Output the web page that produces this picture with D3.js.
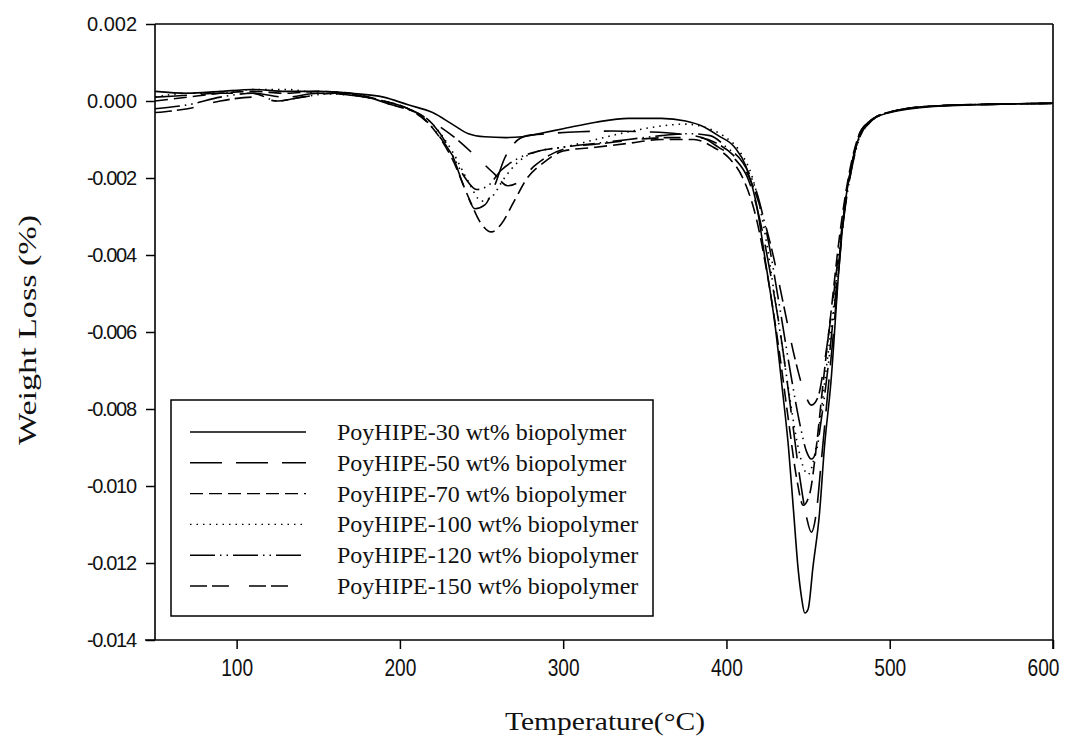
<!DOCTYPE html>
<html>
<head>
<meta charset="utf-8">
<script src="https://cdn.jsdelivr.net/npm/d3@7"></script>
<style>
  html, body { margin: 0; padding: 0; background: #fff; }
  svg { display: block; }
</style>
</head>
<body>
<svg id="chart" width="1075" height="750"></svg>
<script>
// ---------- data ----------
const xTicks = [100, 200, 300, 400, 500, 600];
const yTicks = [0.002, 0.000, -0.002, -0.004, -0.006, -0.008, -0.010, -0.012, -0.014];
const seriesNames = [
  "PoyHIPE-30 wt% biopolymer",
  "PoyHIPE-50 wt% biopolymer",
  "PoyHIPE-70 wt% biopolymer",
  "PoyHIPE-100 wt% biopolymer",
  "PoyHIPE-120 wt% biopolymer",
  "PoyHIPE-150 wt% biopolymer"
];
const s30 = [[50,0.00025],[70,0.0002],[90,0.00025],[110,0.0003],[130,0.00025],[150,0.00025],[170,0.0002],[190,0.0001],[205,-0.0001],[220,-0.0003],[232,-0.0006],[242,-0.00085],[252,-0.00093],[265,-0.00095],[275,-0.00093],[285,-0.00085],[300,-0.00072],[320,-0.00055],[340,-0.00045],[360,-0.00045],[375,-0.00052],[385,-0.00065],[395,-0.0009],[405,-0.0012],[412,-0.0017],[418,-0.0026],[424,-0.0042],[430,-0.0059],[434,-0.0074],[438,-0.009],[441,-0.0106],[444,-0.0122],[446,-0.0129],[448,-0.0133],[450,-0.0132],[453,-0.0121],[457,-0.0107],[460,-0.009],[464,-0.0073],[469,-0.0043],[472,-0.0029],[476,-0.0018],[481,-0.00096],[487,-0.00057],[499,-0.00031],[527,-0.00014],[568,-0.00008],[600,-0.00006]];
const s50 = [[50,0.0001],[70,0.00015],[90,0.0002],[110,0.0002],[130,0.0001],[150,0.0002],[170,0.00015],[190,0.0],[205,-0.0002],[220,-0.0006],[232,-0.0014],[240,-0.0023],[246,-0.0028],[252,-0.0027],[258,-0.0022],[264,-0.0015],[270,-0.0011],[278,-0.0009],[290,-0.00085],[310,-0.0008],[330,-0.00078],[350,-0.0008],[370,-0.00085],[385,-0.00095],[395,-0.0012],[405,-0.0015],[413,-0.002],[420,-0.003],[427,-0.0045],[434,-0.0063],[440,-0.0082],[445,-0.0098],[449,-0.0108],[452,-0.0112],[455,-0.0107],[458,-0.0094],[462,-0.0076],[466,-0.0058],[470,-0.0038],[473,-0.0026],[477,-0.0016],[481,-0.0009],[487,-0.00055],[499,-0.0003],[527,-0.00013],[568,-0.00008],[600,-0.00006]];
const s70 = [[50,0.0],[70,0.0001],[90,0.0002],[110,0.00025],[130,0.0002],[150,0.00025],[170,0.0002],[190,0.0],[205,-0.0002],[220,-0.0007],[232,-0.0015],[242,-0.0025],[250,-0.0032],[256,-0.0034],[262,-0.0032],[270,-0.0026],[278,-0.002],[288,-0.0016],[300,-0.0013],[320,-0.0012],[340,-0.0011],[360,-0.001],[380,-0.001],[392,-0.0012],[402,-0.0015],[410,-0.002],[418,-0.003],[425,-0.0045],[432,-0.0064],[438,-0.0083],[443,-0.0098],[447,-0.0105],[451,-0.0102],[455,-0.009],[459,-0.0074],[464,-0.0055],[469,-0.0036],[473,-0.0024],[477,-0.0015],[481,-0.0009],[487,-0.00055],[499,-0.0003],[527,-0.00013],[568,-0.00008],[600,-0.00006]];
const s100 = [[50,0.0001],[70,0.0002],[90,0.0002],[110,0.0003],[130,0.0003],[150,0.0002],[170,0.00015],[190,0.0],[205,-0.0002],[220,-0.0006],[232,-0.0013],[242,-0.0021],[250,-0.0026],[256,-0.0025],[264,-0.002],[272,-0.0016],[285,-0.0013],[300,-0.0012],[320,-0.001],[340,-0.0008],[360,-0.00065],[375,-0.0006],[388,-0.0007],[398,-0.0009],[408,-0.0013],[416,-0.002],[423,-0.0033],[430,-0.0052],[437,-0.0072],[443,-0.0088],[447,-0.0095],[450,-0.0097],[453,-0.0094],[457,-0.0084],[461,-0.007],[466,-0.0052],[470,-0.0035],[474,-0.0023],[478,-0.0014],[482,-0.0009],[488,-0.00055],[499,-0.0003],[527,-0.00013],[568,-0.00008],[600,-0.00006]];
const s120 = [[50,-0.0002],[70,-0.0001],[90,0.0001],[110,0.0002],[125,0.0],[140,0.0001],[160,0.0002],[180,0.0001],[195,-0.0001],[210,-0.0003],[222,-0.0008],[232,-0.0014],[240,-0.002],[247,-0.0023],[254,-0.0022],[262,-0.0018],[272,-0.0015],[285,-0.0013],[300,-0.0012],[320,-0.0011],[340,-0.001],[360,-0.0009],[378,-0.00085],[390,-0.0009],[400,-0.0012],[410,-0.0016],[418,-0.0023],[425,-0.0035],[432,-0.0052],[439,-0.007],[445,-0.0084],[449,-0.0091],[452,-0.0093],[455,-0.0091],[458,-0.0083],[462,-0.007],[466,-0.0054],[470,-0.0037],[474,-0.0024],[478,-0.0015],[482,-0.0009],[488,-0.00055],[499,-0.0003],[527,-0.00013],[568,-0.00008],[600,-0.00006]];
const s150 = [[50,-0.0003],[70,-0.0002],[90,0.0],[110,0.0001],[125,0.0],[140,0.0001],[160,0.0002],[180,0.0001],[195,-0.0001],[210,-0.0003],[222,-0.0006],[235,-0.001],[248,-0.0015],[258,-0.0019],[266,-0.0022],[273,-0.0021],[282,-0.0017],[292,-0.0014],[305,-0.0012],[325,-0.0011],[345,-0.001],[365,-0.00095],[382,-0.00095],[394,-0.0011],[404,-0.0014],[413,-0.0019],[421,-0.0028],[428,-0.0039],[435,-0.0053],[442,-0.0067],[448,-0.0076],[452,-0.0079],[456,-0.0077],[460,-0.0068],[464,-0.0056],[468,-0.0042],[472,-0.0029],[476,-0.0019],[480,-0.0011],[485,-0.0007],[492,-0.0004],[499,-0.0003],[527,-0.00013],[568,-0.00008],[600,-0.00006]];
const seriesData = [s30, s50, s70, s100, s120, s150];
const dashes = ["none", "32,14", "13,6", "1.5,5", "25,5,1.5,5,1.5,5", "17,5,17,20"];

// ---------- layout ----------
const svg = d3.select("#chart");
const L = 155, R = 1053, T = 24, B = 640;
const x = d3.scaleLinear().domain([50, 600]).range([L, R]);
const y = d3.scaleLinear().domain([-0.014, 0.002]).range([B, T]);

// data lines
const line = d3.line().x(d => x(d[0])).y(d => y(d[1])).curve(d3.curveMonotoneX);
const plot = svg.append("g");
seriesData.forEach((s, i) => {
  plot.append("path")
    .attr("d", line(s))
    .attr("fill", "none")
    .attr("stroke", "#000")
    .attr("stroke-width", 1.6)
    .attr("stroke-dasharray", dashes[i]);
});

// axes
const fmt = d3.format(".3f");
const yAxis = d3.axisLeft(y).tickValues(yTicks).tickSize(9).tickSizeOuter(0).tickPadding(9)
  .tickFormat(d => fmt(d).replace("−", "-"));
const gy = svg.append("g").attr("transform", `translate(${L},0)`).call(yAxis);
gy.select(".domain").remove();
gy.selectAll("line").attr("stroke", "#000").attr("stroke-width", 1.5);
gy.selectAll("text").attr("font-family", "Liberation Sans, Arial, sans-serif")
  .attr("font-size", 20).attr("fill", "#111").attr("textLength", 50).attr("lengthAdjust", "spacing");

const xAxis = d3.axisBottom(x).tickValues(xTicks).tickSize(9).tickSizeOuter(0).tickPadding(8);
const gx = svg.append("g").attr("transform", `translate(0,${B})`).call(xAxis);
gx.select(".domain").remove();
gx.selectAll("line").attr("stroke", "#000").attr("stroke-width", 1.5);
gx.selectAll("text").attr("font-family", "Liberation Sans, Arial, sans-serif")
  .attr("font-size", 24).attr("fill", "#111").attr("textLength", 32).attr("lengthAdjust", "spacingAndGlyphs")
  .attr("dy", "0.8em")
  .attr("dx", d => d === 600 ? -10 : 0);

// frame
const frame = svg.append("g").attr("stroke", "#000").attr("stroke-width", 1.6);
frame.append("line").attr("x1", L).attr("x2", L).attr("y1", T).attr("y2", B);
frame.append("line").attr("x1", L - 10).attr("x2", R).attr("y1", B).attr("y2", B);
frame.append("line").attr("x1", R).attr("x2", R).attr("y1", T).attr("y2", B + 9);
frame.append("line").attr("x1", L).attr("x2", R).attr("y1", T).attr("y2", T);

// axis titles
svg.append("text")
  .attr("x", 605).attr("y", 730)
  .attr("text-anchor", "middle")
  .attr("font-family", "Liberation Serif, Times New Roman, serif")
  .attr("font-size", 26).attr("fill", "#111")
  .attr("textLength", 200).attr("lengthAdjust", "spacingAndGlyphs")
  .text("Temperature(°C)");

svg.append("text")
  .attr("transform", "translate(36,330) rotate(-90)")
  .attr("text-anchor", "middle")
  .attr("font-family", "Liberation Serif, Times New Roman, serif")
  .attr("font-size", 26).attr("fill", "#111")
  .attr("textLength", 230).attr("lengthAdjust", "spacingAndGlyphs")
  .text("Weight Loss (%)");

// legend
const lg = svg.append("g");
lg.append("rect").attr("x", 171).attr("y", 400).attr("width", 482).attr("height", 216)
  .attr("fill", "#fff").attr("stroke", "#000").attr("stroke-width", 1.5);
const rowY = d3.scaleLinear().domain([0, 5]).range([432, 586]);
seriesNames.forEach((name, i) => {
  const yy = rowY(i);
  lg.append("line").attr("x1", 190).attr("x2", 306).attr("y1", yy).attr("y2", yy)
    .attr("stroke", "#000").attr("stroke-width", 1.4).attr("stroke-dasharray", dashes[i]);
  lg.append("text").attr("x", 337).attr("y", yy + 8)
    .attr("font-family", "Liberation Serif, Times New Roman, serif")
    .attr("font-size", 24).attr("fill", "#111")
    .text(name);
});
</script>
</body>
</html>
